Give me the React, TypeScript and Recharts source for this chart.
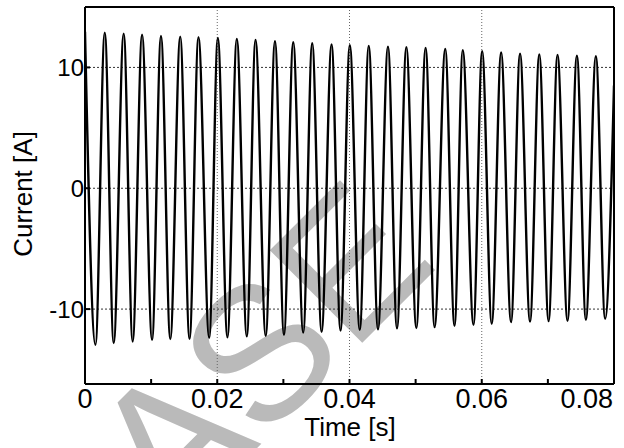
import { LineChart, Line, XAxis, YAxis, CartesianGrid, Label } from "recharts";

// local maxima of the current (s, A)
const peakTimes = [
  0, 0.00299, 0.00585, 0.00863, 0.01149, 0.0144, 0.01716, 0.02009, 0.02296, 0.02579,
  0.02873, 0.03149, 0.03436, 0.03729, 0.04005, 0.04291, 0.04582, 0.0486, 0.05151,
  0.05448, 0.05713, 0.06006, 0.06293, 0.06579, 0.0687, 0.07146, 0.07439, 0.07726,
];
const peakCurrents = [
  12.95, 12.88, 12.8, 12.7, 12.6, 12.55, 12.5, 12.43, 12.35, 12.27,
  12.18, 12.08, 12.0, 11.9, 11.84, 11.78, 11.72, 11.68, 11.62,
  11.52, 11.43, 11.35, 11.24, 11.14, 11.08, 11.04, 10.97, 10.93,
];

// local minima
const troughTimes = [
  0.00158, 0.00434, 0.00721, 0.01014, 0.0129, 0.01581, 0.01878, 0.02154, 0.02447,
  0.02733, 0.03009, 0.033, 0.03578, 0.03864, 0.04155, 0.04431, 0.04718, 0.05011,
  0.05287, 0.05588, 0.05875, 0.06151, 0.06443, 0.0673, 0.07011, 0.07297, 0.07575, 0.07866,
];
const troughCurrents = [
  -12.95, -12.81, -12.68, -12.55, -12.48, -12.46, -12.37, -12.33, -12.26,
  -12.21, -12.12, -11.95, -11.88, -11.78, -11.72, -11.68, -11.6, -11.57,
  -11.49, -11.38, -11.3, -11.21, -11.08, -11.04, -11.0, -10.97, -10.88, -10.8,
];

// last sample at the right edge
const endTime = 0.08;
const endCurrent = 8.5;

const xTicks = [0, 0.01, 0.02, 0.03, 0.04, 0.05, 0.06, 0.07, 0.08];
const xLabels = [0, 0.02, 0.04, 0.06, 0.08];
const xGrid = [0.02, 0.04, 0.06];
const yTicks = [-10, 0, 10];

const data = [
  ...peakTimes.map((t, i) => ({ t, current: peakCurrents[i] })),
  ...troughTimes.map((t, i) => ({ t, current: troughCurrents[i] })),
  { t: endTime, current: endCurrent },
].sort((a, b) => a.t - b.t);

const FONT = "'Liberation Sans', Arial, Helvetica, sans-serif";

function TimeTick(props: any) {
  const { x, y, payload } = props;
  const v = payload.value;
  if (!xLabels.includes(v)) return <g />;
  const last = v === xLabels[xLabels.length - 1];
  return (
    <text x={last ? x - 1 : x} y={y} dy="0.71em" textAnchor={last ? "end" : "middle"} fontSize={27} fontFamily={FONT} fill="#000">
      {String(v)}
    </text>
  );
}

export default function App() {
  return (
    <div style={{ position: "absolute", left: 0, top: 0, width: 624, height: 448, overflow: "hidden", background: "#fff" }}>
      {/* watermark behind the chart */}
      <svg width={624} height={448} style={{ position: "absolute", left: 0, top: 0 }}>
        <text transform="translate(172 533) rotate(-45)" fontSize={190} fontFamily={FONT} fill="#bababa">
          ASE
        </text>
      </svg>
      <div style={{ position: "absolute", left: 0, top: 0 }}>
        <LineChart width={624} height={448} data={data} margin={{ top: 6, right: 0, bottom: 20, left: 25 }}>
          <CartesianGrid horizontal={false} verticalValues={xGrid} stroke="#666" strokeDasharray="1 2" />
          <CartesianGrid vertical={false} horizontalValues={yTicks} stroke="#333" strokeDasharray="2 2" />
          <XAxis
            dataKey="t"
            type="number"
            domain={[0, 0.08]}
            allowDataOverflow
            ticks={xTicks}
            interval={0}
            height={44}
            tickSize={-5}
            tickMargin={10}
            stroke="#000"
            strokeWidth={2}
            tick={<TimeTick />}
          >
            <Label
              content={() => (
                <text x={350} y={436} textAnchor="middle" fontSize={26} fontFamily={FONT} fill="#000">
                  Time [s]
                </text>
              )}
            />
          </XAxis>
          <XAxis
            xAxisId="top"
            orientation="top"
            dataKey="t"
            type="number"
            domain={[0, 0.08]}
            allowDataOverflow
            ticks={xTicks}
            interval={0}
            height={1}
            tickSize={-5}
            tick={false}
            stroke="#000"
            strokeWidth={2}
          />
          <YAxis
            type="number"
            domain={[-16.2, 15]}
            allowDataOverflow
            ticks={yTicks}
            interval={0}
            width={60}
            tickSize={-5}
            tickMargin={6}
            stroke="#000"
            strokeWidth={2}
            tick={{ fontSize: 24, fontFamily: FONT, fill: "#000" }}
          >
            <Label
              content={() => (
                <text transform="translate(32 194) rotate(-90)" textAnchor="middle" fontSize={26} fontFamily={FONT} fill="#000">
                  Current [A]
                </text>
              )}
            />
          </YAxis>
          <YAxis
            yAxisId="right"
            orientation="right"
            type="number"
            domain={[-16.2, 15]}
            allowDataOverflow
            ticks={yTicks}
            interval={0}
            width={10}
            tickSize={-5}
            tick={false}
            stroke="#000"
            strokeWidth={2}
          />
          <Line
            type="monotone"
            dataKey="current"
            stroke="#000"
            strokeWidth={2.4}
            dot={false}
            isAnimationActive={false}
          />
        </LineChart>
      </div>
    </div>
  );
}
